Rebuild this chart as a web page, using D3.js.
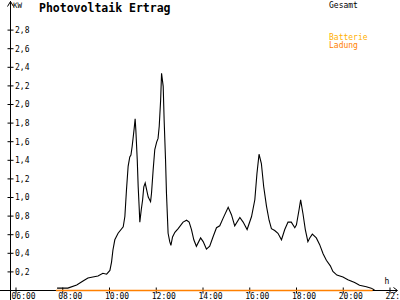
<!DOCTYPE html>
<html><head><meta charset="utf-8">
<script src="https://cdn.jsdelivr.net/npm/d3@7"></script>
<style>
html,body{margin:0;padding:0;background:#fff;}
svg{display:block;}
text{font-family:"DejaVu Sans Mono",monospace;}
</style></head>
<body>
<svg id="c" width="400" height="300"></svg>
<script>
// hours of day
const hours = [7.8,8.26,8.64,8.91,9.12,9.33,9.55,9.76,9.92,10.06,10.13,10.19,10.27,10.41,10.63,10.70,10.77,10.84,10.91,10.96,11.01,11.06,11.10,11.14,11.17,11.23,11.27,11.31,11.34,11.40,11.46,11.51,11.57,11.63,11.70,11.80,11.84,11.91,11.98,12.06,12.12,12.17,12.23,12.27,12.34,12.38,12.44,12.48,12.55,12.62,12.67,12.74,12.84,12.98,13.19,13.34,13.45,13.55,13.65,13.76,13.94,14.05,14.19,14.33,14.47,14.62,14.76,14.90,15.12,15.26,15.40,15.62,15.76,15.93,16.12,16.26,16.35,16.44,16.54,16.64,16.76,16.87,16.97,17.11,17.25,17.40,17.54,17.68,17.82,17.97,18.04,18.15,18.22,18.32,18.42,18.53,18.61,18.72,18.89,19.03,19.18,19.32,19.49,19.60,19.77,20.03,20.24,20.53,20.74,21.03,21.24,21.38];
// Gesamt (kW)
const gesamt = [0.02,0.02,0.054,0.097,0.13,0.14,0.15,0.18,0.17,0.21,0.30,0.43,0.54,0.61,0.68,0.79,1.08,1.33,1.43,1.45,1.54,1.65,1.74,1.84,1.72,1.40,1.11,0.90,0.73,0.86,0.97,1.11,1.15,1.08,1.00,0.95,1.04,1.29,1.51,1.59,1.63,1.76,2.04,2.33,2.19,1.83,1.40,1.04,0.61,0.52,0.48,0.57,0.62,0.66,0.73,0.75,0.73,0.65,0.54,0.47,0.56,0.52,0.44,0.47,0.57,0.67,0.69,0.77,0.89,0.81,0.69,0.78,0.73,0.65,0.79,0.97,1.25,1.46,1.36,1.11,0.90,0.75,0.66,0.64,0.61,0.54,0.65,0.73,0.73,0.67,0.70,0.86,0.97,0.82,0.65,0.52,0.56,0.60,0.56,0.49,0.39,0.32,0.26,0.20,0.16,0.14,0.11,0.08,0.05,0.035,0.02,0];
// Batterie Ladung (kW)
const ladungHours = [7.75, 21.3];
const ladung = [0, 0];
const xTicks = [6,8,10,12,14,16,18,20,22];
const yTicks = [0.2,0.4,0.6,0.8,1.0,1.2,1.4,1.6,1.8,2.0,2.2,2.4,2.6,2.8];
const title = "Photovoltaik Ertrag";

const svg = d3.select("#c");
const x = d3.scaleLinear().domain([6,22]).range([15,389]);
const y = d3.scaleLinear().domain([0,2.8]).range([290,29.6]);
const fmtH = h => String(h).padStart(2,"0") + ":00";
const fmtV = v => v.toFixed(1).replace(".", ",");

// axes lines
svg.append("line").attr("x1",0).attr("x2",397).attr("y1",290.5).attr("y2",290.5).attr("stroke","#000");
svg.append("line").attr("x1",10.5).attr("x2",10.5).attr("y1",1).attr("y2",300).attr("stroke","#000");
svg.append("path").attr("d","M7.5,6.5L10.5,1.5L13.5,6.5").attr("fill","none").attr("stroke","#000");
svg.append("path").attr("d","M393.5,287.5L397.5,290.5L393.5,293.5").attr("fill","none").attr("stroke","#000");

// x axis
const gx = svg.append("g").attr("transform","translate(0,290.5)")
  .call(d3.axisBottom(x).tickValues(xTicks).tickFormat(fmtH).tickSizeInner(3).tickSizeOuter(0));
gx.select(".domain").remove();
gx.selectAll(".tick line").attr("y1",-3).attr("y2",3).attr("stroke","#000").attr("transform","translate(0.5,0)");
gx.selectAll(".tick text").attr("text-anchor","start").attr("x",-4).attr("y",8.5).attr("dy",null)
  .attr("font-size","8px").attr("font-family","DejaVu Sans Mono, monospace").attr("fill","#000");

// y axis
const gy = svg.append("g").attr("transform","translate(10.5,0)")
  .call(d3.axisLeft(y).tickValues(yTicks).tickFormat(fmtV).tickSizeInner(3).tickSizeOuter(0));
gy.select(".domain").remove();
gy.selectAll(".tick line").attr("x1",-3).attr("x2",3).attr("stroke","#000");
gy.selectAll(".tick text").attr("text-anchor","start").attr("x",4.5).attr("dy","0.35em")
  .attr("font-size","8px").attr("font-family","DejaVu Sans Mono, monospace").attr("fill","#000");

// series
const line = d3.line().x(d=>x(d[0])).y(d=>y(d[1]));
svg.append("path").datum(ladungHours.map((h,i)=>[h,ladung[i]]))
  .attr("d", d=>line(d).replace(/,290L/g,",290.5L").replace(/,290$/,",290.5"))
  .attr("fill","none").attr("stroke","#ff8000").attr("stroke-width",1.5);
svg.append("path").datum(hours.map((h,i)=>[h,gesamt[i]]))
  .attr("d", line).attr("fill","none").attr("stroke","#000").attr("stroke-width",1.1);

// texts
svg.append("text").attr("x",13).attr("y",8).attr("font-size","7.5px").text("KW");
svg.append("text").attr("x",39).attr("y",11.5).attr("font-size","11.5px").attr("font-weight","bold").text(title);
svg.append("text").attr("x",329).attr("y",8).attr("font-size","8px").text("Gesamt");
svg.append("text").attr("x",329).attr("y",39.5).attr("font-size","8px").attr("fill","#ffb000").text("Batterie");
svg.append("text").attr("x",329).attr("y",47.5).attr("font-size","8px").attr("fill","#ff8000").text("Ladung");
svg.append("text").attr("x",384.5).attr("y",284).attr("font-size","8px").text("h");
</script>
</body></html>
